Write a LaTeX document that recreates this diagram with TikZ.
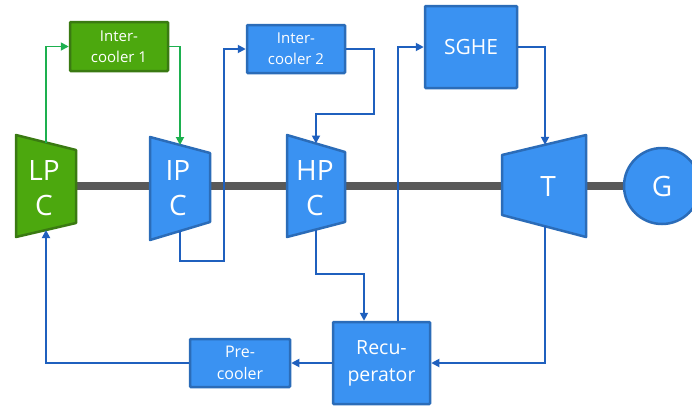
\documentclass[tikz,border=0pt]{standalone}
\usepackage{fontspec}
\setmainfont{Open Sans}
\usetikzlibrary{arrows.meta}
\definecolor{bfill}{HTML}{3A92F2}
\definecolor{bdraw}{HTML}{2B6CB8}
\definecolor{bline}{HTML}{1F60BE}
\definecolor{gfill}{HTML}{4CA80E}
\definecolor{gdraw}{HTML}{3A7A12}
\definecolor{gline}{HTML}{1DB04F}
\definecolor{shaftc}{HTML}{595959}
\tikzset{
  bluebox/.style={draw=bdraw, fill=bfill, line width=2.5pt, text=white, align=center, inner sep=0pt, rounded corners=1pt},
  greenbox/.style={draw=gdraw, fill=gfill, line width=2.5pt, text=white, align=center, inner sep=0pt, rounded corners=1pt},
  bluemach/.style={draw=bdraw, fill=bfill, line width=2.5pt, line join=round},
  greenmach/.style={draw=gdraw, fill=gfill, line width=2.5pt, line join=round},
  lbl/.style={text=white, align=center, inner sep=0pt},
  bflow/.style={draw=bline, line width=1.8pt, -{Triangle[length=8pt,width=8pt]}},
  gflow/.style={draw=gline, line width=1.8pt, -{Triangle[length=8pt,width=8pt]}},
  shaft/.style={draw=shaftc, line width=8pt}
}
\begin{document}
\begin{tikzpicture}[x=1pt,y=-1pt]
\useasboundingbox (0,0) rectangle (692,405);
\clip (0,0) rectangle (692,405);
% shaft
\coordinate (sh1) at (76,186);
\coordinate (sh2) at (625,186);
\draw[shaft] (sh1) -- (sh2);
% machines
\path[greenmach] (16,135) -- (76,150) -- (76,223) -- (16,237) -- cycle;
\path[bluemach] (150,137) -- (210,153) -- (210,222) -- (150,240) -- cycle;
\path[bluemach] (287,135) -- (345,152) -- (345,222) -- (287,237) -- cycle;
\path[bluemach] (502,155) -- (586,135) -- (586,237) -- (502,215) -- cycle;
\node[lbl, font=\fontsize{28}{35}\selectfont] (lpc) at (44,188) {LP\\C};
\node[lbl, font=\fontsize{28}{35}\selectfont] (ipc) at (178,188) {IP\\C};
\node[lbl, font=\fontsize{28}{35}\selectfont] (hpc) at (315,188) {HP\\C};
\node[lbl, font=\fontsize{28}{35}\selectfont] (tur) at (548,186) {T};
\node[circle, draw=bdraw, fill=bfill, line width=2.5pt, minimum size=76pt, inner sep=0pt, text=white, font=\fontsize{28}{35}\selectfont] (gen) at (662,186) {G};
% boxes
\node[greenbox, minimum width=98pt, minimum height=49pt, font=\fontsize{15}{21}\selectfont] (ic1) at (119,46.5) {Inter-\\cooler 1};
\node[bluebox, minimum width=98pt, minimum height=48pt, font=\fontsize{15}{21}\selectfont] (ic2) at (296,49) {Inter-\\cooler 2};
\node[bluebox, minimum width=92pt, minimum height=82pt, font=\fontsize{21}{25}\selectfont] (sghe) at (471,47) {SGHE};
\node[bluebox, minimum width=100pt, minimum height=48pt, font=\fontsize{16}{22}\selectfont] (pre) at (240,363) {Pre-\\cooler};
\node[bluebox, minimum width=97pt, minimum height=82pt, font=\fontsize{19.5}{27}\selectfont] (rec) at (381.5,363) {Recu-\\perator};
% ports
\coordinate (lpcout) at (46,142.5);
\coordinate (lpcin) at (46,230);
\coordinate (ipcin) at (180,145);
\coordinate (ipcout) at (180,231);
\coordinate (hpcin) at (316,143.5);
\coordinate (hpcout) at (316,229.5);
\coordinate (tin) at (545,144.8);
\coordinate (tout) at (545,226);
\coordinate (c1) at (224,261);
\coordinate (c2) at (374,114);
\coordinate (c3) at (364,274);
\coordinate (c4) at (398,47);
% flows
\draw[gflow] (lpcout) |- (ic1.west);
\draw[gflow] (ic1.east) -| (ipcin);
\draw[bflow] (ipcout) |- (c1) |- (ic2.west);
\draw[bflow] (ic2.east) -| (c2) -| (hpcin);
\draw[bflow] (hpcout) |- (c3) -- (c3 |- rec.north);
\draw[bflow] (c4 |- rec.north) |- (sghe.west);
\draw[bflow] (sghe.east) -| (tin);
\draw[bflow] (tout) |- (rec.east);
\draw[bflow] (rec.west) -- (pre.east);
\draw[bflow] (pre.west) -| (lpcin);
\end{tikzpicture}
\end{document}
